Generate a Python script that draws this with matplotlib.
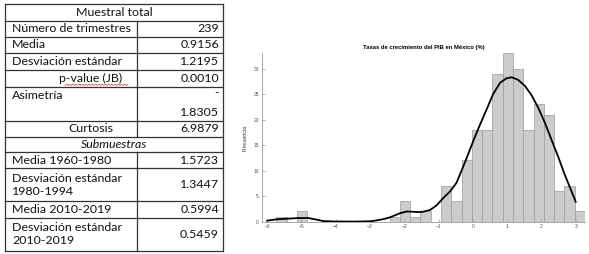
import numpy as np
import matplotlib
matplotlib.use("Agg")
import matplotlib.pyplot as plt

# ---- table data ----
table_labels = ["Número de trimestres", "Media", "Desviación estándar", "p-value (JB)",
                "Asimetría", "Curtosis"]
table_values = ["239", "0.9156", "1.2195", "0.0010", "-\n1.8305", "6.9879"]
sub_labels = ["Media 1960-1980", "Desviación estándar\n1980-1994",
              "Media 2010-2019", "Desviación estándar\n2010-2019"]
sub_values = ["1.5723", "1.3447", "0.5994", "0.5459"]

# ---- histogram data (counts per 0.3-wide bin) ----
bin_start = -5.73
bin_width = 0.3
counts = [1, 0, 2, 0, 0, 0, 0, 0, 0, 0, 0, 1, 4, 1, 2, 0,
          7, 4, 12, 18, 18, 29, 33, 30, 18, 23, 21, 6, 7, 2]

# fitted kernel curve
curve_x = [-6.0, -5.72, -5.38, -5.09, -4.8, -4.61, -4.36, -4.02, -3.44, -2.95,
           -2.61, -2.42, -2.13, -1.93, -1.74, -1.6, -1.45, -1.25, -1.06, -0.87,
           -0.67, -0.48, -0.38, -0.18, 0.01, 0.2, 0.4, 0.59, 0.79, 0.98, 1.13,
           1.32, 1.52, 1.71, 1.9, 2.1, 2.29, 2.49, 2.68, 2.88, 3.0]
curve_y = [0.2, 0.47, 0.6, 0.72, 0.72, 0.47, 0.12, 0.04, 0.02, 0.1,
           0.5, 0.85, 1.65, 2.0, 1.95, 1.88, 1.95, 2.3, 3.2, 4.6,
           5.9, 7.6, 9.2, 12.5, 15.8, 18.9, 22.0, 25.0, 27.2, 28.1, 28.3,
           27.8, 26.6, 24.8, 22.4, 19.4, 16.1, 12.7, 9.2, 5.9, 3.9]

W, H = 589, 254
fig = plt.figure(figsize=(W / 100, H / 100), dpi=100)

# ---------------- table ----------------
tab = fig.add_axes([0, 0, 1, 1])
tab.set_xlim(0, W)
tab.set_ylim(H, 0)
tab.axis("off")

x_left, x_mid, x_right = 5, 137, 223
row_edges = [4, 20.7, 36.7, 53.3, 70, 87, 121, 136.7, 151.7, 168.3, 201, 217.7, 251]
merged = {0, 7}
tfont = dict(family="Lato", fontsize=8.9, color="#111111")
lc = "#333333"

for y in row_edges:
    tab.plot([x_left, x_right], [y, y], color=lc, lw=0.9)
tab.plot([x_left, x_left], [row_edges[0], row_edges[-1]], color=lc, lw=0.9)
tab.plot([x_right, x_right], [row_edges[0], row_edges[-1]], color=lc, lw=0.9)
for i in range(len(row_edges) - 1):
    if i not in merged:
        tab.plot([x_mid, x_mid], [row_edges[i], row_edges[i + 1]], color=lc, lw=0.9)

def cy(i):
    return (row_edges[i] + row_edges[i + 1]) / 2

tab.text((x_left + x_right) / 2, cy(0), "Muestral total", ha="center", va="center", **tfont)
tab.text((x_left + x_right) / 2, cy(7), "Submuestras", ha="center", va="center",
         style="italic", **tfont)

rows = list(zip(table_labels, table_values)) + [None] + list(zip(sub_labels, sub_values))
for k, r in enumerate(rows):
    if r is None:
        continue
    i = k + 1
    lab, val = r
    if lab in ("p-value (JB)", "Curtosis"):
        tab.text(91, cy(i), lab, ha="center", va="center", **tfont)
    elif lab == "Asimetría":
        tab.text(12, row_edges[i] + 8.5, lab, ha="left", va="center", **tfont)
    else:
        tab.text(12, cy(i), lab, ha="left", va="center", linespacing=1.25, **tfont)
    if "\n" in val:
        top, bot = val.split("\n")
        tab.text(219, row_edges[i] + 6, top, ha="right", va="center", **tfont)
        tab.text(219, row_edges[i + 1] - 8, bot, ha="right", va="center", **tfont)
    else:
        tab.text(219, cy(i), val, ha="right", va="center", **tfont)

# red spell-check squiggle under "value (JB"
sq_x = np.linspace(65, 128, 40)
tab.plot(sq_x, cy(4) + 6.3 + 0.7 * (-1) ** np.arange(40), color="#e03030", lw=0.5)

# ---------------- histogram ----------------
ax = fig.add_axes([261.7 / W, 1 - 221.7 / H, (585 - 261.7) / W, (221.7 - 53.3) / H])
edges = bin_start + bin_width * np.arange(len(counts))
ax.bar(edges, counts, width=bin_width, align="edge", color="#cccccc",
       edgecolor="#9a9a9a", linewidth=0.5)
ax.plot(curve_x, curve_y, color="black", lw=1.3, solid_joinstyle="round")

ax.set_xlim(-6.16, 3.27)
ax.set_ylim(0, 33)
ax.set_xticks(np.arange(-6, 4, 1))
ax.set_yticks(np.arange(0, 31, 5))
for s in ("top", "right"):
    ax.spines[s].set_visible(False)
for s in ("left", "bottom"):
    ax.spines[s].set_color("#9a9a9a")
    ax.spines[s].set_linewidth(0.6)
ax.tick_params(direction="in", length=2, width=0.5, color="#9a9a9a",
               labelsize=3.6, labelcolor="#555555", pad=2)
for lbl in ax.get_xticklabels() + ax.get_yticklabels():
    lbl.set_family("Liberation Sans")
ax.set_ylabel("Frecuencia", fontsize=3.8, family="Liberation Sans", color="#333333",
              labelpad=4)
ax.set_title("Tasas de crecimiento del PIB en México (%)", fontsize=4.2,
             fontweight="bold", family="Liberation Sans", pad=3)

fig.savefig("out.png", dpi=100)
